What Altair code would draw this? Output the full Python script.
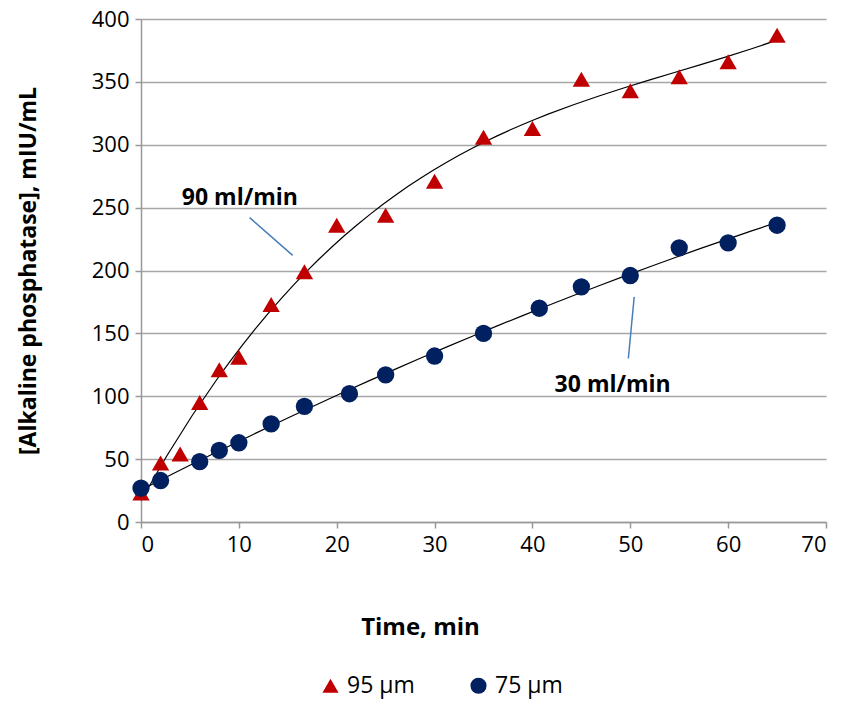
import altair as alt
import pandas as pd

# 95 µm series (triangles)
t95 = [0, 2, 4, 6, 8, 10, 13.3, 16.7, 20, 25, 30, 35, 40, 45, 50, 55, 60, 65]
v95 = [23, 47, 54, 95, 121, 131, 173, 199, 236, 244, 271, 306, 313, 352, 343, 354, 366, 387]
# 75 µm series (circles)
t75 = [0, 2, 6, 8, 10, 13.3, 16.7, 21.3, 25, 30, 35, 40.7, 45, 50, 55, 60, 65]
v75 = [27, 33, 48, 57, 63, 78, 92, 102, 117, 132, 150, 170, 187, 196, 218, 222, 236]

series_names = ["95 µm", "75 µm"]
series_colors = ["#C00000", "#002060"]
series_shapes = ["triangle-up", "circle"]

# annotations (data coordinates)
ann_text = ["90 ml/min", "30 ml/min"]
ann_tx = [10.1, 48.2]
ann_ty = [258, 109]
ann_x1 = [11.1, 50.4]
ann_y1 = [242, 179]
ann_x2 = [15.5, 49.8]
ann_y2 = [212, 130]

FONT = "Open Sans"

df = pd.DataFrame(
    {"Time": t95 + t75,
     "Value": v95 + v75,
     "Series": [series_names[0]] * len(t95) + [series_names[1]] * len(t75)}
)
ann = pd.DataFrame({"text": ann_text, "tx": ann_tx, "ty": ann_ty,
                    "x1": ann_x1, "y1": ann_y1, "x2": ann_x2, "y2": ann_y2})

xscale = alt.Scale(domain=[0, 70], nice=False)
yscale = alt.Scale(domain=[0, 400], nice=False)

xaxis = alt.Axis(values=list(range(0, 71, 10)), grid=False, title="Time, min",
                 domainColor="#999999", domainWidth=1.5, tickColor="#999999",
                 tickWidth=1.5, tickSize=6, labelPadding=6, labelFontSize=22,
                 labelFont=FONT, labelColor="#000000", titleFont=FONT,
                 titleFontSize=24, titleFontWeight="bold", titleColor="#000000",
                 titleX=279, titleY=105, titleBaseline="middle", titleAnchor="middle")
yaxis = alt.Axis(values=list(range(0, 401, 50)), grid=True, gridColor="#A6A6A6",
                 gridWidth=1.5, title="[Alkaline phosphatase], mIU/mL",
                 domainColor="#999999", domainWidth=1.5, tickColor="#999999",
                 tickWidth=1.5, tickSize=6, labelPadding=6, labelFontSize=22,
                 labelFont=FONT, labelColor="#000000", titleFont=FONT,
                 titleFontSize=23, titleFontWeight="bold", titleColor="#000000",
                 titleX=-113, titleBaseline="middle")

color = alt.Color("Series:N", scale=alt.Scale(domain=series_names, range=series_colors),
                  legend=alt.Legend(title=None, orient="none", direction="horizontal",
                                    legendX=178, legendY=655, labelFont=FONT,
                                    labelFontSize=23, labelColor="#000000",
                                    symbolSize=260, columnPadding=52, labelOffset=5,
                                    symbolStrokeWidth=0, symbolOpacity=1))
shape = alt.Shape("Series:N", scale=alt.Scale(domain=series_names, range=series_shapes))

base = alt.Chart(df)

trend95 = base.transform_filter(alt.datum.Series == series_names[0]).transform_regression(
    "Time", "Value", method="poly", order=3
).mark_line(color="#000000", strokeWidth=1.2).encode(
    x=alt.X("Time:Q", scale=xscale, axis=xaxis), y=alt.Y("Value:Q", scale=yscale, axis=yaxis))

trend75 = base.transform_filter(alt.datum.Series == series_names[1]).transform_regression(
    "Time", "Value", method="poly", order=2
).mark_line(color="#000000", strokeWidth=1.2).encode(
    x=alt.X("Time:Q", scale=xscale, axis=xaxis), y=alt.Y("Value:Q", scale=yscale, axis=yaxis))

points = base.mark_point(filled=True, opacity=1, size=300).encode(
    x=alt.X("Time:Q", scale=xscale, axis=xaxis),
    y=alt.Y("Value:Q", scale=yscale, axis=yaxis),
    color=color, shape=shape,
)

ann_lines = alt.Chart(ann).mark_rule(color="#4A7EBB", strokeWidth=1.5).encode(
    x=alt.X("x1:Q", scale=xscale, axis=xaxis), y=alt.Y("y1:Q", scale=yscale, axis=yaxis),
    x2="x2:Q", y2="y2:Q")
ann_texts = alt.Chart(ann).mark_text(font=FONT, fontSize=23, fontWeight="bold",
                                     color="#000000").encode(
    x=alt.X("tx:Q", scale=xscale, axis=xaxis), y=alt.Y("ty:Q", scale=yscale, axis=yaxis),
    text="text:N")

chart = alt.layer(trend95, trend75, points, ann_lines, ann_texts).properties(
    width=685, height=503,
    autosize=alt.AutoSizeParams(type="none"),
    padding={"left": 133, "top": 11, "right": 16, "bottom": 178},
).configure(background="#ffffff").configure_view(stroke="transparent", strokeWidth=0)

chart.save("out.html", embed_options={"renderer": "svg", "actions": False})
